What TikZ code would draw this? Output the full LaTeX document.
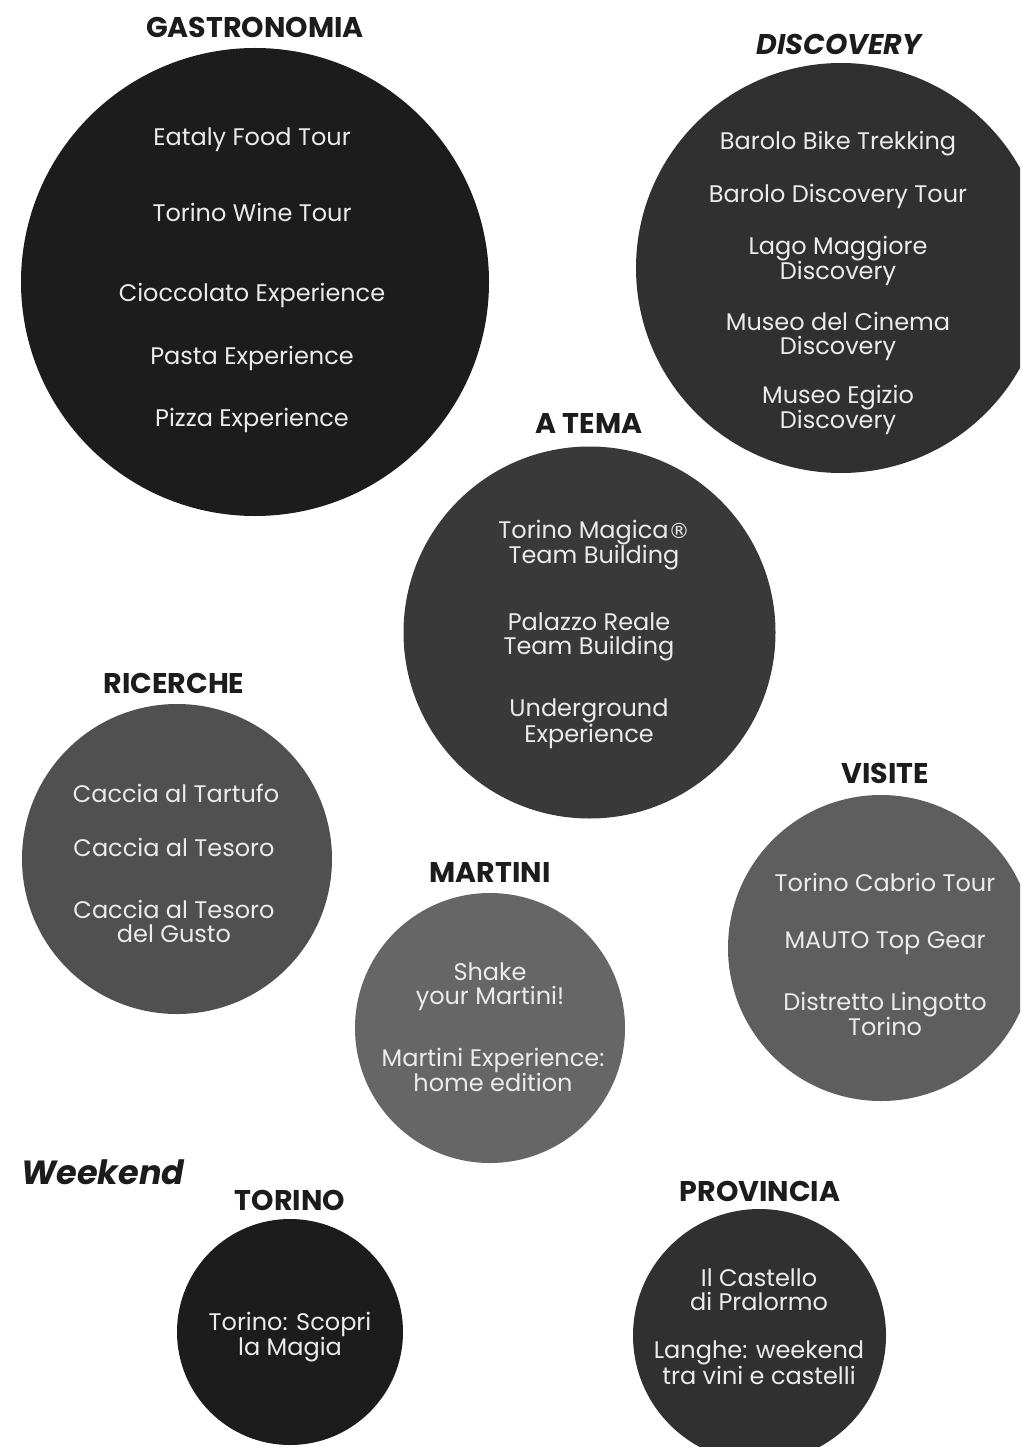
\documentclass[tikz,border=0pt]{standalone}
\usepackage{fontspec}
\setmainfont{Poppins}
\newfontfamily\regfont{DejaVu Sans}
\definecolor{ink}{HTML}{1C1C1C}
\definecolor{txt}{HTML}{EBEBEB}
\definecolor{cgas}{HTML}{1C1C1C}
\definecolor{cdis}{HTML}{303030}
\definecolor{ctem}{HTML}{3A393A}
\definecolor{cric}{HTML}{505050}
\definecolor{cmar}{HTML}{666666}
\definecolor{cvis}{HTML}{5E5E5E}
\definecolor{ctor}{HTML}{1C1C1C}
\definecolor{cpro}{HTML}{303030}
\tikzset{
  bubble/.style={circle, inner sep=0pt, minimum size=#1},
  ttl/.style={font=\fontsize{28.5}{32}\selectfont\bfseries, text=ink, inner sep=0pt},
  ttlit/.style={font=\fontsize{28.5}{32}\selectfont\bfseries\itshape, text=ink, inner sep=0pt},
  item/.style={font=\fontsize{24}{24}\selectfont, text=txt, align=center, inner sep=0pt},
}
\begin{document}
\begin{tikzpicture}[x=1pt,y=-1pt]
\useasboundingbox (0,0) rectangle (1020,1447);
\clip (0,0) rectangle (1020,1447);
% circles
\node[bubble=468pt, fill=cgas] (gas) at (255,282) {};
\node[bubble=410pt, fill=cdis] (dis) at (841,268) {};
\node[bubble=372pt, fill=ctem] (tem) at (589.5,632.5) {};
\node[bubble=310pt, fill=cric] (ric) at (177,859) {};
\node[bubble=270pt, fill=cmar] (mar) at (490,1028) {};
\node[bubble=306pt, fill=cvis] (vis) at (881,948) {};
\node[bubble=226pt, fill=ctor] (tor) at (290,1332) {};
\node[bubble=253pt, fill=cpro] (pro) at (759.5,1335.5) {};
% titles
\node[ttl] (tgas) at (255,27.5) {GASTRONOMIA};
\node[ttlit] (tdis) at (839,44) {DISCOVERY};
\node[ttl] (ttem) at (589,423.5) {A TEMA};
\node[ttl] (tric) at (174,683) {RICERCHE};
\node[ttl] (tvis) at (885,773.5) {VISITE};
\node[ttl] (tmar) at (490,872) {MARTINI};
\node[ttlit, font=\fontsize{33.5}{36}\selectfont\bfseries\itshape] (twe) at (103,1172) {Weekend};
\node[ttl] (ttor) at (290,1200) {TORINO};
\node[ttl] (tpro) at (760,1191) {PROVINCIA};
% gastronomia
\node[item] (g1) at (252,140) {Eataly Food Tour};
\node[item] (g2) at (252,212) {Torino Wine Tour};
\node[item] (g3) at (252,295) {Cioccolato Experience};
\node[item] (g4) at (252,358) {Pasta Experience};
\node[item] (g5) at (252,420) {Pizza Experience};
% discovery
\node[item] (d1) at (838,144) {Barolo Bike Trekking};
\node[item] (d2) at (838,196) {Barolo Discovery Tour};
\node[item] (d3) at (838,261) {Lago Maggiore\\Discovery};
\node[item] (d4) at (838,336) {Museo del Cinema\\Discovery};
\node[item] (d5) at (838,410) {Museo Egizio\\Discovery};
% a tema
\node[item] (a1) at (594,545) {Torino Magica{\regfont\fontsize{21}{24}\selectfont ®}\\Team Building};
\node[item] (a2) at (589,637) {Palazzo Reale\\Team Building};
\node[item] (a3) at (589,724) {Underground\\Experience};
% ricerche
\node[item] (r1) at (176,793) {Caccia al Tartufo};
\node[item] (r2) at (174,847) {Caccia al Tesoro};
\node[item] (r3) at (174,921) {Caccia al Tesoro\\del Gusto};
% visite
\node[item] (v1) at (885,882) {Torino Cabrio Tour};
\node[item] (v2) at (885,943) {MAUTO Top Gear};
\node[item] (v3) at (885,1014) {Distretto Lingotto\\Torino};
% martini
\node[item] (m1) at (490,987) {Shake\\your Martini!};
\node[item] (m2) at (493,1070) {Martini Experience:\\home edition};
% torino
\node[item] (o1) at (290,1337) {Torino: Scopri\\la Magia};
% provincia
\node[item] (p1) at (759,1290) {Il Castello\\di Pralormo};
\node[item] (p2) at (759,1363) {Langhe: weekend\\tra vini e castelli};
\end{tikzpicture}
\end{document}
